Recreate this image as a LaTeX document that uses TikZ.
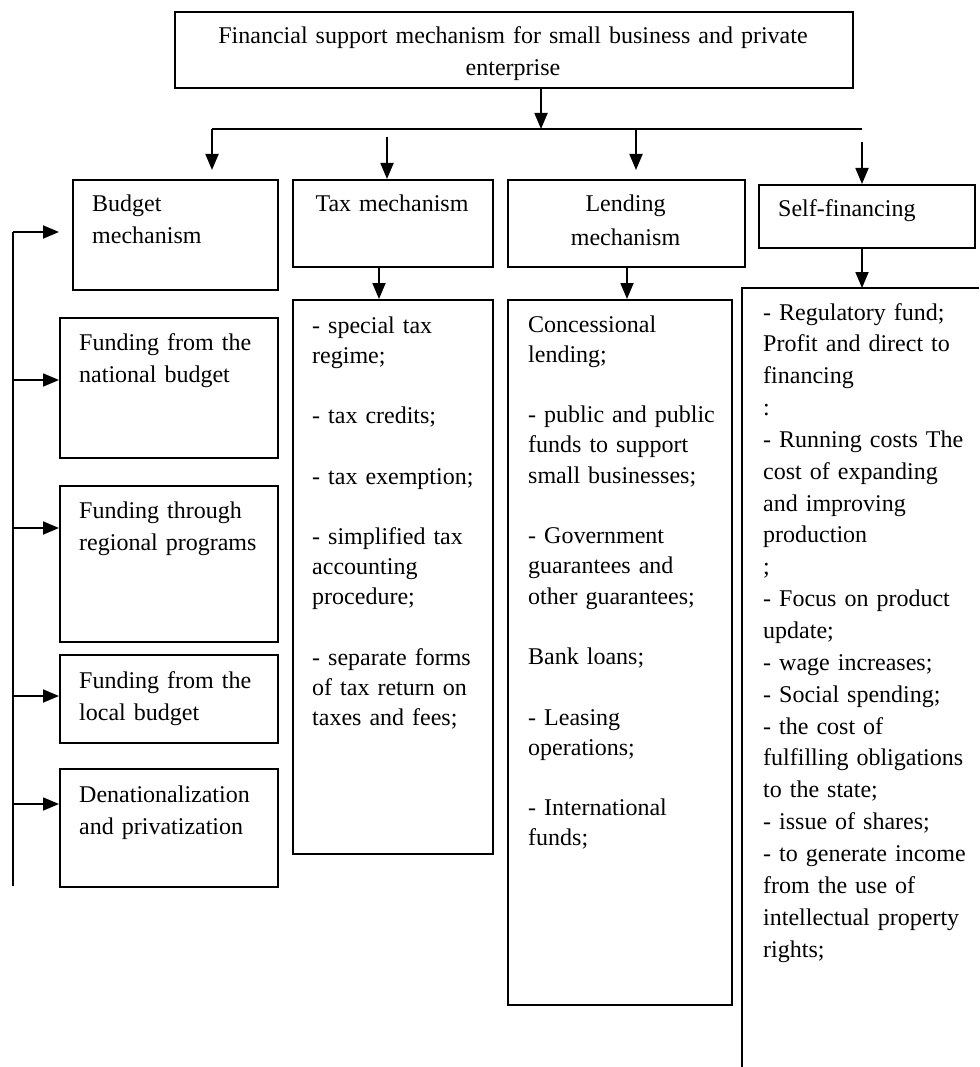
\documentclass[tikz,border=0pt]{standalone}
\usepackage{fontspec}
\setmainfont{Liberation Serif}
\usetikzlibrary{arrows.meta}
\begin{document}
\begin{tikzpicture}[x=1pt,y=-1pt,
  bx/.style={draw, line width=1.6pt, inner sep=0pt, anchor=north west},
  ln/.style={line width=1.8pt},
  arr/.style={line width=1.8pt, -{Triangle[length=16pt,width=13pt]}},
  tx/.style={anchor=base west, inner sep=0pt, align=left, text width=#1,
    font=\fontsize{24}{30.2}\selectfont},
  tx/.default=215pt,
  txs/.style={anchor=base west, inner sep=0pt, align=left, text width=215pt,
    font=\fontsize{24}{31.85}\selectfont},
  txc/.style={anchor=base, inner sep=0pt, align=center, text width=#1,
    font=\fontsize{24}{33}\selectfont},
  txf/.style={anchor=base west, inner sep=0pt, align=left, text width=200pt,
    font=\fontsize{24}{32}\selectfont}
]
\useasboundingbox (0,0) rectangle (979,1067);

% boxes
\node[bx, minimum width=678pt, minimum height=76pt] (top) at (174,11) {};
\node[bx, minimum width=205pt, minimum height=110pt] (bud) at (72,179) {};
\node[bx, minimum width=200pt, minimum height=87pt] (tax) at (292,179) {};
\node[bx, minimum width=237pt, minimum height=87pt] (lend) at (507,179) {};
\node[bx, minimum width=216pt, minimum height=63pt] (self) at (758,184) {};
\node[bx, minimum width=218pt, minimum height=140pt] (nat) at (59,317) {};
\node[bx, minimum width=218pt, minimum height=156pt] (reg) at (59,485) {};
\node[bx, minimum width=218pt, minimum height=88pt] (loc) at (59,654) {};
\node[bx, minimum width=218pt, minimum height=118pt] (den) at (59,768) {};
\node[bx, minimum width=200pt, minimum height=554pt] (taxl) at (292,299) {};
\node[bx, minimum width=224pt, minimum height=705pt] (lendl) at (507,299) {};
\coordinate (sl0) at (742,288);
\coordinate (sl1) at (979,288);
\coordinate (sl2) at (742,1067);
\draw[line width=1.6pt] (sl1) -- (sl0) -- (sl2);

% texts
\node[txc=670pt, font=\fontsize{24}{32}\selectfont] (ttl) at (513,44)
  {Financial support mechanism for small business and private\\enterprise};
\node[txf] (tbud) at (92,212) {Budget\\mechanism};
\node[txc=200pt] (ttax) at (392,212) {Tax mechanism};
\node[txc=230pt] (tlend) at (625.5,212) {Lending\\mechanism};
\node[txf] (tself) at (778,217) {Self-financing};
\node[txf] (tnat) at (79,350) {Funding from the\\national budget};
\node[txf] (treg) at (79,518.5) {Funding through\\regional programs};
\node[txf] (tloc) at (79,688) {Funding from the\\local budget};
\node[txf] (tden) at (79,802) {Denationalization\\and privatization};

\node[tx=190pt] (ttaxl) at (312,333) {- special tax\\regime;\\[30.2pt]
- tax credits;\\[30.2pt]
- tax exemption;\\[30.2pt]
- simplified tax\\accounting\\procedure;\\[30.2pt]
- separate forms\\of tax return on\\taxes and fees;};

\node[tx=210pt] (tlendl) at (528,332) {Concessional\\lending;\\[30.3pt]
- public and public\\funds to support\\small businesses;\\[30.3pt]
- Government\\guarantees and\\other guarantees;\\[30.3pt]
Bank loans;\\[30.3pt]
- Leasing\\operations;\\[30.3pt]
- International\\funds;};

\node[txs] (tselfl) at (763,320) {- Regulatory fund;\\Profit and direct to\\financing\\:\\
- Running costs The\\cost of expanding\\and improving\\production\\;\\
- Focus on product\\update;\\- wage increases;\\- Social spending;\\
- the cost of\\fulfilling obligations\\to the state;\\- issue of shares;\\
- to generate income\\from the use of\\intellectual property\\rights;};

% top connectors
\coordinate (s0) at (541,129);
\coordinate (barL) at (212,129);
\coordinate (barR) at (862,129);
\draw[arr] (top.south -| s0) -- (s0);
\draw[ln] (barL) -- (barR);
\draw[arr, shorten >=9pt] (barL) -- (barL |- bud.north);
\coordinate (a2) at (387,137);
\draw[arr] (a2) -- (a2 |- tax.north);
\coordinate (a3) at (636,129);
\draw[arr, shorten >=9pt] (a3) -- (a3 |- lend.north);
\coordinate (a4) at (862,142);
\draw[arr] (a4) -- (a4 |- self.north);

% lower connectors
\coordinate (b1) at (379,266);
\draw[arr] (tax.south -| b1) -- (taxl.north -| b1);
\coordinate (b2) at (627,266);
\draw[arr] (lend.south -| b2) -- (lendl.north -| b2);
\draw[arr] (self.south -| a4) -- (a4 |- sl0);

% left feedback line
\coordinate (L0) at (13,232);
\coordinate (L1) at (13,886);
\draw[ln] (L1) -- (L0);
\draw[arr, shorten >=13pt] (L0) -- (L0 -| bud.west);
\coordinate (f1) at (13,380);
\coordinate (f2) at (13,528);
\coordinate (f3) at (13,696);
\coordinate (f4) at (13,804);
\draw[arr] (f1) -- (f1 -| nat.west);
\draw[arr] (f2) -- (f2 -| reg.west);
\draw[arr] (f3) -- (f3 -| loc.west);
\draw[arr] (f4) -- (f4 -| den.west);
\end{tikzpicture}
\end{document}
